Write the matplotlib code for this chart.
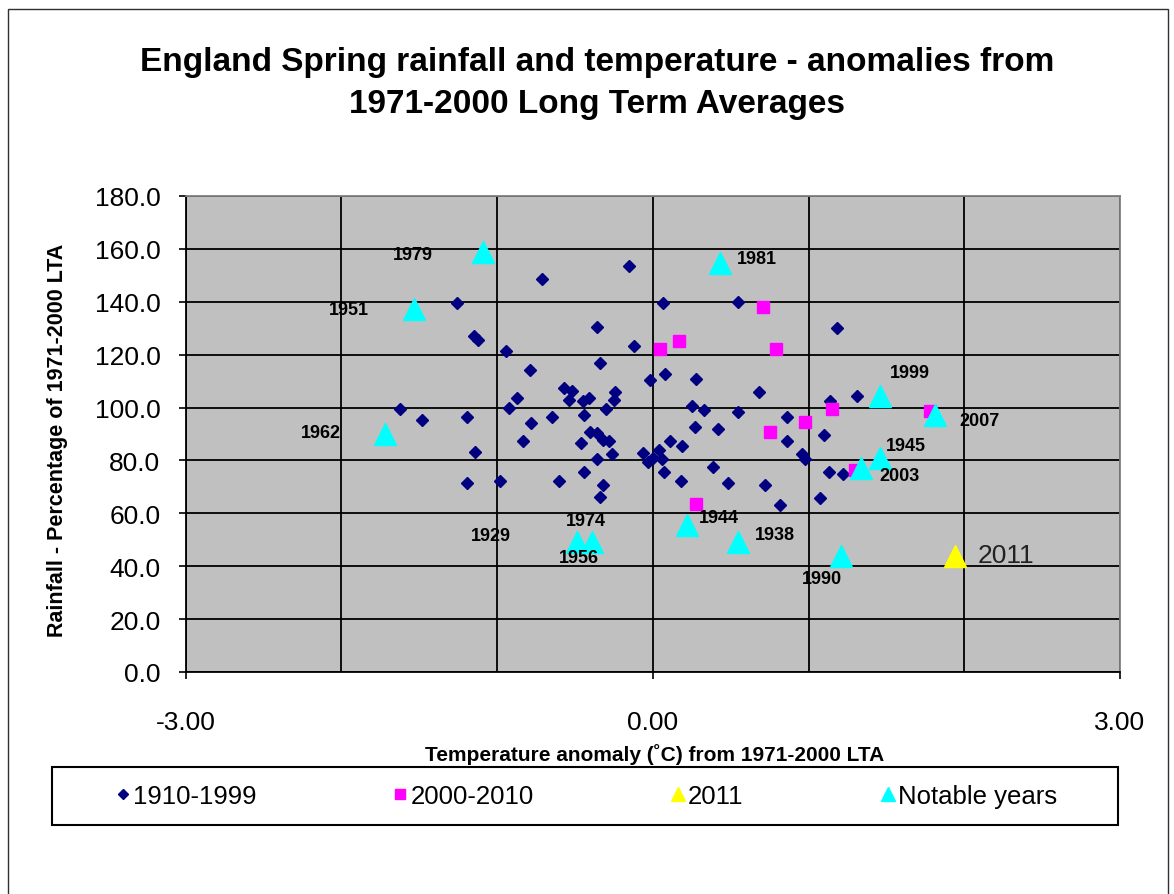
import numpy as np
import matplotlib
matplotlib.use("Agg")
import matplotlib.pyplot as plt
from matplotlib.lines import Line2D
from matplotlib.patches import Rectangle
from matplotlib.ticker import FormatStrFormatter

plt.rcParams['font.family'] = ['Liberation Sans', 'DejaVu Sans']

# 1910-1999: temperature anomaly (C), rainfall (% of LTA)
t_1900s = [-1.62, -1.48, -1.26, -1.15, -1.12, -1.19, -1.14, -1.19, -0.98, -0.94,
           -0.87, -0.92, -0.78, -0.83, -0.79, -0.71, -0.65, -0.60, -0.57, -0.52,
           -0.54, -0.45, -0.41, -0.44, -0.46, -0.44, -0.40, -0.36, -0.32, -0.28,
           -0.26, -0.36, -0.32, -0.34, -0.36, -0.34, -0.30, -0.25, -0.24, -0.15,
           -0.12, -0.015, 0.064, 0.077, 0.28, 0.25, 0.33, 0.55, 0.55, 0.68,
           0.86, 0.27, 0.42, 0.11, 0.19, -0.06, -0.03, 0.00, 0.04, 0.06,
           0.07, 0.18, 0.39, 0.48, 0.72, 0.82, 0.86, 0.96, 0.98, 1.10,
           1.075, 1.13, 1.22, 1.18, 1.14, 1.31]
r_1900s = [99.4, 95.4, 139.5, 127.0, 125.5, 96.3, 83.1, 71.5, 72.3, 121.5,
           103.7, 100.0, 94.2, 87.4, 114.1, 148.6, 96.3, 72.3, 107.4, 106.2,
           103.0, 102.5, 103.5, 97.0, 86.5, 75.6, 90.7, 90.3, 87.6, 87.4,
           82.6, 80.6, 70.7, 66.1, 130.4, 116.8, 99.4, 102.8, 105.8, 153.4,
           123.3, 110.3, 139.5, 112.7, 110.8, 100.6, 99.2, 98.5, 140.0, 105.9,
           96.3, 92.6, 91.8, 87.3, 85.6, 82.7, 79.4, 80.8, 84.0, 80.4,
           75.8, 72.3, 77.4, 71.6, 70.7, 63.3, 87.3, 82.5, 80.5, 89.6,
           65.7, 75.5, 74.8, 130.0, 102.3, 104.3]

# 2000-2010
t_2000s = [0.71, 0.045, 0.17, 0.79, 1.15, 0.975, 0.75, 0.276, 1.30, 1.78]
r_2000s = [138.0, 122.0, 125.2, 122.0, 99.6, 94.4, 90.8, 63.6, 76.2, 98.8]

# 2011
t_2011 = [1.94]
r_2011 = [43.7]

# notable years
notable_years = ['1979', '1951', '1962', '1981', '1974', '1956', '1944', '1938',
                 '1990', '1999', '2007', '2003', '1945']
t_notable = [-1.09, -1.53, -1.72, 0.43, -0.39, -0.485, 0.22, 0.55,
             1.21, 1.46, 1.81, 1.34, 1.46]
r_notable = [159.0, 137.2, 90.1, 154.6, 49.3, 49.3, 55.6, 49.3,
             43.7, 104.3, 97.0, 77.2, 80.8]

# label offsets in pixels from each notable point
label_offsets = {'1979': (-70, -3), '1951': (-66, 0), '1962': (-64, 1),
                 '1981': (37, 5), '1974': (-6, 21), '1956': (2, -16),
                 '1944': (32, 7), '1938': (36, 7), '1990': (-19, -22),
                 '1999': (30, 24), '2007': (45, -5), '2003': (38, -8),
                 '1945': (26, 13)}

W, H = 1174, 895
fig = plt.figure(figsize=(W / 100, H / 100), dpi=100)

def fx(px):
    return px / W

def fy(py):
    return 1 - py / H

# outer chart border
fig.add_artist(Rectangle((fx(8), fy(905)), fx(1168 - 8), (905 - 10) / H,
                         fill=False, edgecolor='#303030', lw=1.0,
                         transform=fig.transFigure))

ax = fig.add_axes([fx(185.5), fy(673), fx(1120 - 185.5), (673 - 197) / H])
ax.set_facecolor('#c0c0c0')
ax.set_xlim(-3, 3)
ax.set_ylim(0, 180)

ax.set_xticks([-3, 0, 3])
ax.set_xticks(np.arange(-3, 4, 1), minor=True)
ax.set_yticks(np.arange(0, 181, 20))
ax.xaxis.set_major_formatter(FormatStrFormatter('%.2f'))
ax.yaxis.set_major_formatter(FormatStrFormatter('%.1f'))
ax.grid(True, which='both', color='black', lw=1.3)
ax.set_axisbelow(True)
ax.tick_params(axis='x', which='major', direction='out', length=5, width=1.2,
               labelsize=19, pad=22)
ax.tick_params(axis='y', which='major', direction='out', length=5, width=1.2,
               labelsize=19, pad=13)
ax.tick_params(which='minor', length=0)
for side in ['top', 'right']:
    ax.spines[side].set_color('#808080')
for side in ['left', 'bottom']:
    ax.spines[side].set_color('black')
for sp in ax.spines.values():
    sp.set_linewidth(1.3)

ax.plot(t_1900s, r_1900s, linestyle='none', marker='D', ms=6.6,
        color='#000080', zorder=3)
ax.plot(t_2000s, r_2000s, linestyle='none', marker='s', ms=8.3,
        color='#ff00ff', zorder=3)
ax.plot(t_2011, r_2011, linestyle='none', marker='^', ms=15.5,
        color='#ffff00', zorder=4)
ax.plot(t_notable, r_notable, linestyle='none', marker='^', ms=15.5,
        color='#00ffff', zorder=4)

for yr, t, r in zip(notable_years, t_notable, r_notable):
    dx, dy = label_offsets[yr]
    ax.annotate(yr, (t, r), xytext=(dx, dy), textcoords='offset pixels',
                ha='center', va='center', fontsize=13, fontweight='bold',
                zorder=5)
ax.annotate('2011', (t_2011[0], r_2011[0]), xytext=(51, 1),
            textcoords='offset pixels', ha='center', va='center',
            fontsize=19, color='#222222', zorder=5)
ax.text(-1.04, 51.6, '1929', ha='center', va='center', fontsize=13,
        fontweight='bold', zorder=5)

# titles and axis labels
fig.text(fx(597), fy(62), 'England Spring rainfall and temperature - anomalies from',
         ha='center', va='center', fontsize=24, fontweight='bold')
fig.text(fx(597), fy(105), '1971-2000 Long Term Averages',
         ha='center', va='center', fontsize=24, fontweight='bold')
fig.text(fx(655), fy(755), 'Temperature anomaly (˚C) from 1971-2000 LTA',
         ha='center', va='center', fontsize=15, fontweight='bold')
fig.text(fx(58), fy(440), 'Rainfall - Percentage of 1971-2000 LTA',
         ha='center', va='center', fontsize=15.5, fontweight='bold', rotation=90)

# legend
handles = [
    Line2D([], [], linestyle='none', marker='D', ms=5.5, color='#000080'),
    Line2D([], [], linestyle='none', marker='s', ms=6.5, color='#ff00ff'),
    Line2D([], [], linestyle='none', marker='^', ms=10, color='#ffff00'),
    Line2D([], [], linestyle='none', marker='^', ms=10, color='#00ffff'),
]
labels = ['1910-1999', '2000-2010', '2011', 'Notable years']
fig.legend(handles, labels, loc='center', bbox_to_anchor=(fx(586), fy(797)),
           ncol=4, frameon=False, fontsize=18.5, columnspacing=5.3,
           handletextpad=0.1, handlelength=0.6)
fig.add_artist(Rectangle((fx(52), fy(826)), fx(1118 - 52), (826 - 768) / H,
                         fill=False, edgecolor='black', lw=1.5,
                         transform=fig.transFigure))

fig.savefig('out.png', dpi=100)
